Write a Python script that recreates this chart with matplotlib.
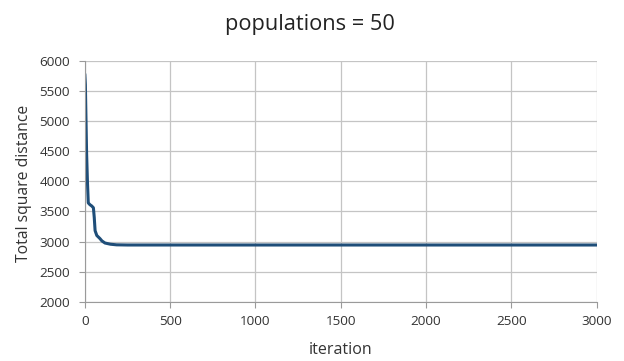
import matplotlib.pyplot as plt
import numpy as np

# convergence curve
iteration = [0, 3, 10, 15, 20, 30, 40, 50, 55, 60, 70, 88, 100, 118, 150, 186, 250, 500, 1000, 1500, 2000, 2500, 3000]
distance = [5760, 5600, 4480, 4000, 3640, 3610, 3590, 3560, 3400, 3180, 3100, 3050, 3010, 2975, 2955, 2945, 2942, 2942, 2942, 2942, 2942, 2942, 2942]

x_ticks = [0, 500, 1000, 1500, 2000, 2500, 3000]
y_ticks = [2000, 2500, 3000, 3500, 4000, 4500, 5000, 5500, 6000]

plt.rcParams['font.family'] = ['Open Sans', 'DejaVu Sans']

fig = plt.figure(figsize=(6.24, 3.61), dpi=100)
ax = fig.add_axes([0.136, 0.164, 0.820, 0.668])

ax.plot(iteration, distance, color='#1f4e79', lw=2.2, solid_joinstyle='round')

ax.set_xlim(0, 3000)
ax.set_ylim(2000, 6000)
ax.set_xticks(x_ticks)
ax.set_yticks(y_ticks)
ax.grid(True, color='#c4c4c4', lw=0.9)
ax.set_axisbelow(True)

for side in ['top', 'right']:
    ax.spines[side].set_visible(False)
for side in ['left', 'bottom']:
    ax.spines[side].set_color('#9a9a9a')

ax.tick_params(axis='both', direction='out', length=4.3, color='#9a9a9a', labelsize=9.7, labelcolor='#333333')
ax.tick_params(axis='x', pad=5.5)
ax.tick_params(axis='y', pad=6.5)

ax.set_xlabel('iteration', fontsize=11.5, color='#333333', va='center')
ax.xaxis.set_label_coords(0.5, -0.2)
ax.set_ylabel('Total square distance', fontsize=11.3, color='#333333', va='center')
ax.yaxis.set_label_coords(-0.119, 0.49)
fig.text(0.497, 0.931, 'populations = 50', fontsize=15.7, color='#222222', ha='center', va='center')

plt.savefig('out.png', dpi=100)
plt.close()
